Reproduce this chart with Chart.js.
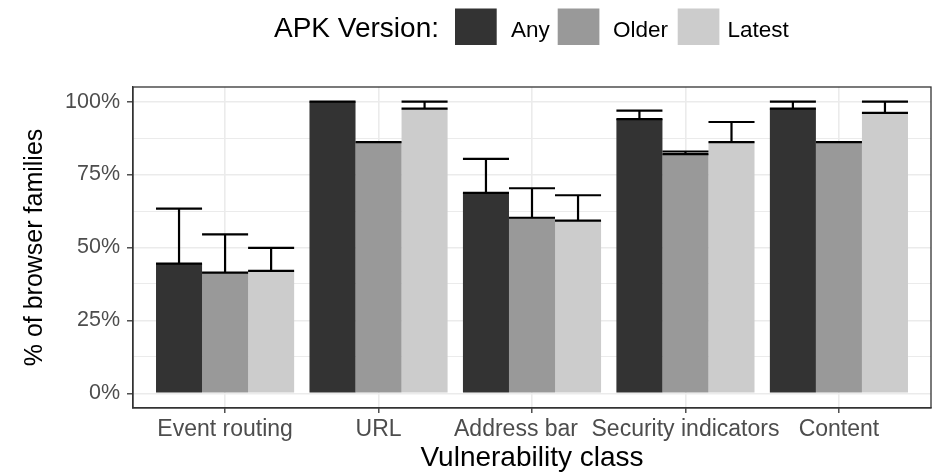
<!DOCTYPE html>
<html>
<head>
<meta charset="utf-8">
<script src="https://cdn.jsdelivr.net/npm/chart.js@4/dist/chart.umd.min.js"></script>
<style>
  html, body { margin: 0; padding: 0; background: #fff; }
  canvas { display: block; }
</style>
</head>
<body>
<canvas id="chart" width="935" height="475"></canvas>
<script>
// Vulnerability classes along the x axis (trailing spaces keep the third
// label clear of its long neighbour)
const categories = ['Event routing', 'URL', 'Address bar     ', 'Security indicators', 'Content'];

// APK version groups
const seriesNames = ['Any', 'Older', 'Latest'];
const seriesColors = ['#333333', '#999999', '#CCCCCC'];

// Share of browser families (%) and upper end of each error bar
const anyValues    = [44.5, 100.0, 68.7, 94.0, 97.6];
const anyUpper     = [63.3, 100.0, 80.4, 96.9, 100.0];
const olderValues  = [41.4, 86.1, 60.2, 82.0, 86.1];
const olderUpper   = [54.5, 86.1, 70.3, 82.9, 86.1];
const latestValues = [42.0, 97.6, 59.2, 86.1, 96.1];
const latestUpper  = [49.9, 100.0, 67.9, 93.0, 100.0];

// Y axis breaks: labelled majors every 25, minors in between
const yTicks = [0, 12.5, 25, 37.5, 50, 62.5, 75, 87.5, 100];
const yLabelled = [0, 25, 50, 75, 100];

const seriesValues = [anyValues, olderValues, latestValues];
const seriesUpper = [anyUpper, olderUpper, latestUpper];

const FONT = "'Liberation Sans', Arial, Helvetica, sans-serif";
Chart.defaults.font.family = FONT;

const isMajor = v => yLabelled.includes(v);

// Error bars: whisker from the bar top to the upper bound, capped at both ends
const errorBars = {
  id: 'errorBars',
  afterDatasetsDraw(chart) {
    const { ctx } = chart;
    const yScale = chart.scales.y;
    ctx.save();
    ctx.strokeStyle = '#000000';
    ctx.lineWidth = 2.2;
    chart.data.datasets.forEach((ds, di) => {
      const meta = chart.getDatasetMeta(di);
      meta.data.forEach((bar, i) => {
        const { x, width } = bar.getProps(['x', 'width'], true);
        const yLow = yScale.getPixelForValue(seriesValues[di][i]);
        const yHigh = yScale.getPixelForValue(seriesUpper[di][i]);
        const half = width / 2;
        ctx.beginPath();
        ctx.moveTo(x, yLow);
        ctx.lineTo(x, yHigh);
        ctx.moveTo(x - half, yLow);
        ctx.lineTo(x + half, yLow);
        ctx.moveTo(x - half, yHigh);
        ctx.lineTo(x + half, yHigh);
        ctx.stroke();
      });
    });
    ctx.restore();
  }
};

// Full rectangle around the plotting panel
const panelBorder = {
  id: 'panelBorder',
  afterDraw(chart) {
    const { ctx, chartArea: a } = chart;
    ctx.save();
    ctx.strokeStyle = '#333333';
    ctx.lineWidth = 1.3;
    ctx.strokeRect(a.left, a.top, a.right - a.left, a.bottom - a.top);
    ctx.restore();
  }
};

// Horizontal legend with its title on the left, above the panel
const topLegend = {
  id: 'topLegend',
  afterDraw(chart) {
    const { ctx } = chart;
    const baseline = 36.5;
    const keyX = [455, 557.7, 677.7];
    const labelX = [511, 613, 727.5];
    const keyTop = 8.5, keyW = 41.7, keyH = 36.5;
    ctx.save();
    ctx.fillStyle = '#000000';
    ctx.textBaseline = 'alphabetic';
    ctx.textAlign = 'left';
    ctx.font = `28px ${FONT}`;
    ctx.fillText('APK Version:', 274, baseline);
    seriesNames.forEach((name, i) => {
      ctx.fillStyle = seriesColors[i];
      ctx.fillRect(keyX[i], keyTop, keyW, keyH);
      ctx.fillStyle = '#000000';
      ctx.font = `22.5px ${FONT}`;
      ctx.fillText(name, labelX[i], baseline);
    });
    ctx.restore();
  }
};

new Chart(document.getElementById('chart'), {
  type: 'bar',
  data: {
    datasets: seriesNames.map((name, si) => ({
      label: name,
      data: seriesValues[si].map((v, i) => ({ x: i + 1, y: v })),
      backgroundColor: seriesColors[si],
      borderWidth: 0,
      categoryPercentage: 0.9,
      barPercentage: 1.0
    }))
  },
  options: {
    responsive: false,
    animation: false,
    devicePixelRatio: 1,
    layout: { padding: { top: 87, right: 4, left: 0, bottom: 0 } },
    plugins: {
      legend: { display: false },
      tooltip: { enabled: false }
    },
    scales: {
      x: {
        type: 'linear',
        min: 0.4,
        max: 5.6,
        offset: false,
        afterBuildTicks: s => { s.ticks = categories.map((_, i) => ({ value: i + 1 })); },
        afterFit: s => { s.height = 67; },
        ticks: {
          autoSkip: false,
          maxRotation: 0,
          padding: 3,
          color: '#4D4D4D',
          font: { size: 23 },
          callback: v => categories[Math.round(v) - 1] ?? ''
        },
        grid: {
          offset: false,
          color: '#EBEBEB',
          lineWidth: 1.6,
          drawTicks: true,
          tickLength: 5,
          tickColor: '#333333',
          tickWidth: 1.3
        },
        border: { display: true, color: '#333333', width: 1.3 },
        title: {
          display: true,
          text: 'Vulnerability class',
          color: '#000000',
          font: { size: 28 },
          padding: { top: 0, bottom: 0 }
        }
      },
      y: {
        type: 'linear',
        min: -5,
        max: 105,
        afterBuildTicks: s => { s.ticks = yTicks.map(v => ({ value: v })); },
        afterFit: s => { s.width = 133; },
        ticks: {
          autoSkip: false,
          padding: 7,
          color: '#4D4D4D',
          font: { size: 21.5 },
          callback: v => isMajor(v) ? v + '%' : ''
        },
        grid: {
          color: '#EBEBEB',
          lineWidth: ctx => (ctx.tick && isMajor(ctx.tick.value)) ? 1.6 : 1.0,
          drawTicks: true,
          tickLength: 6,
          tickWidth: 1.3,
          tickColor: ctx => (ctx.tick && isMajor(ctx.tick.value)) ? '#333333' : 'rgba(0,0,0,0)'
        },
        border: { display: true, color: '#333333', width: 1.3 },
        title: {
          display: true,
          text: '% of browser families',
          color: '#000000',
          font: { size: 25 },
          padding: { top: 20, bottom: 0 }
        }
      }
    }
  },
  plugins: [errorBars, panelBorder, topLegend]
});
</script>
</body>
</html>
